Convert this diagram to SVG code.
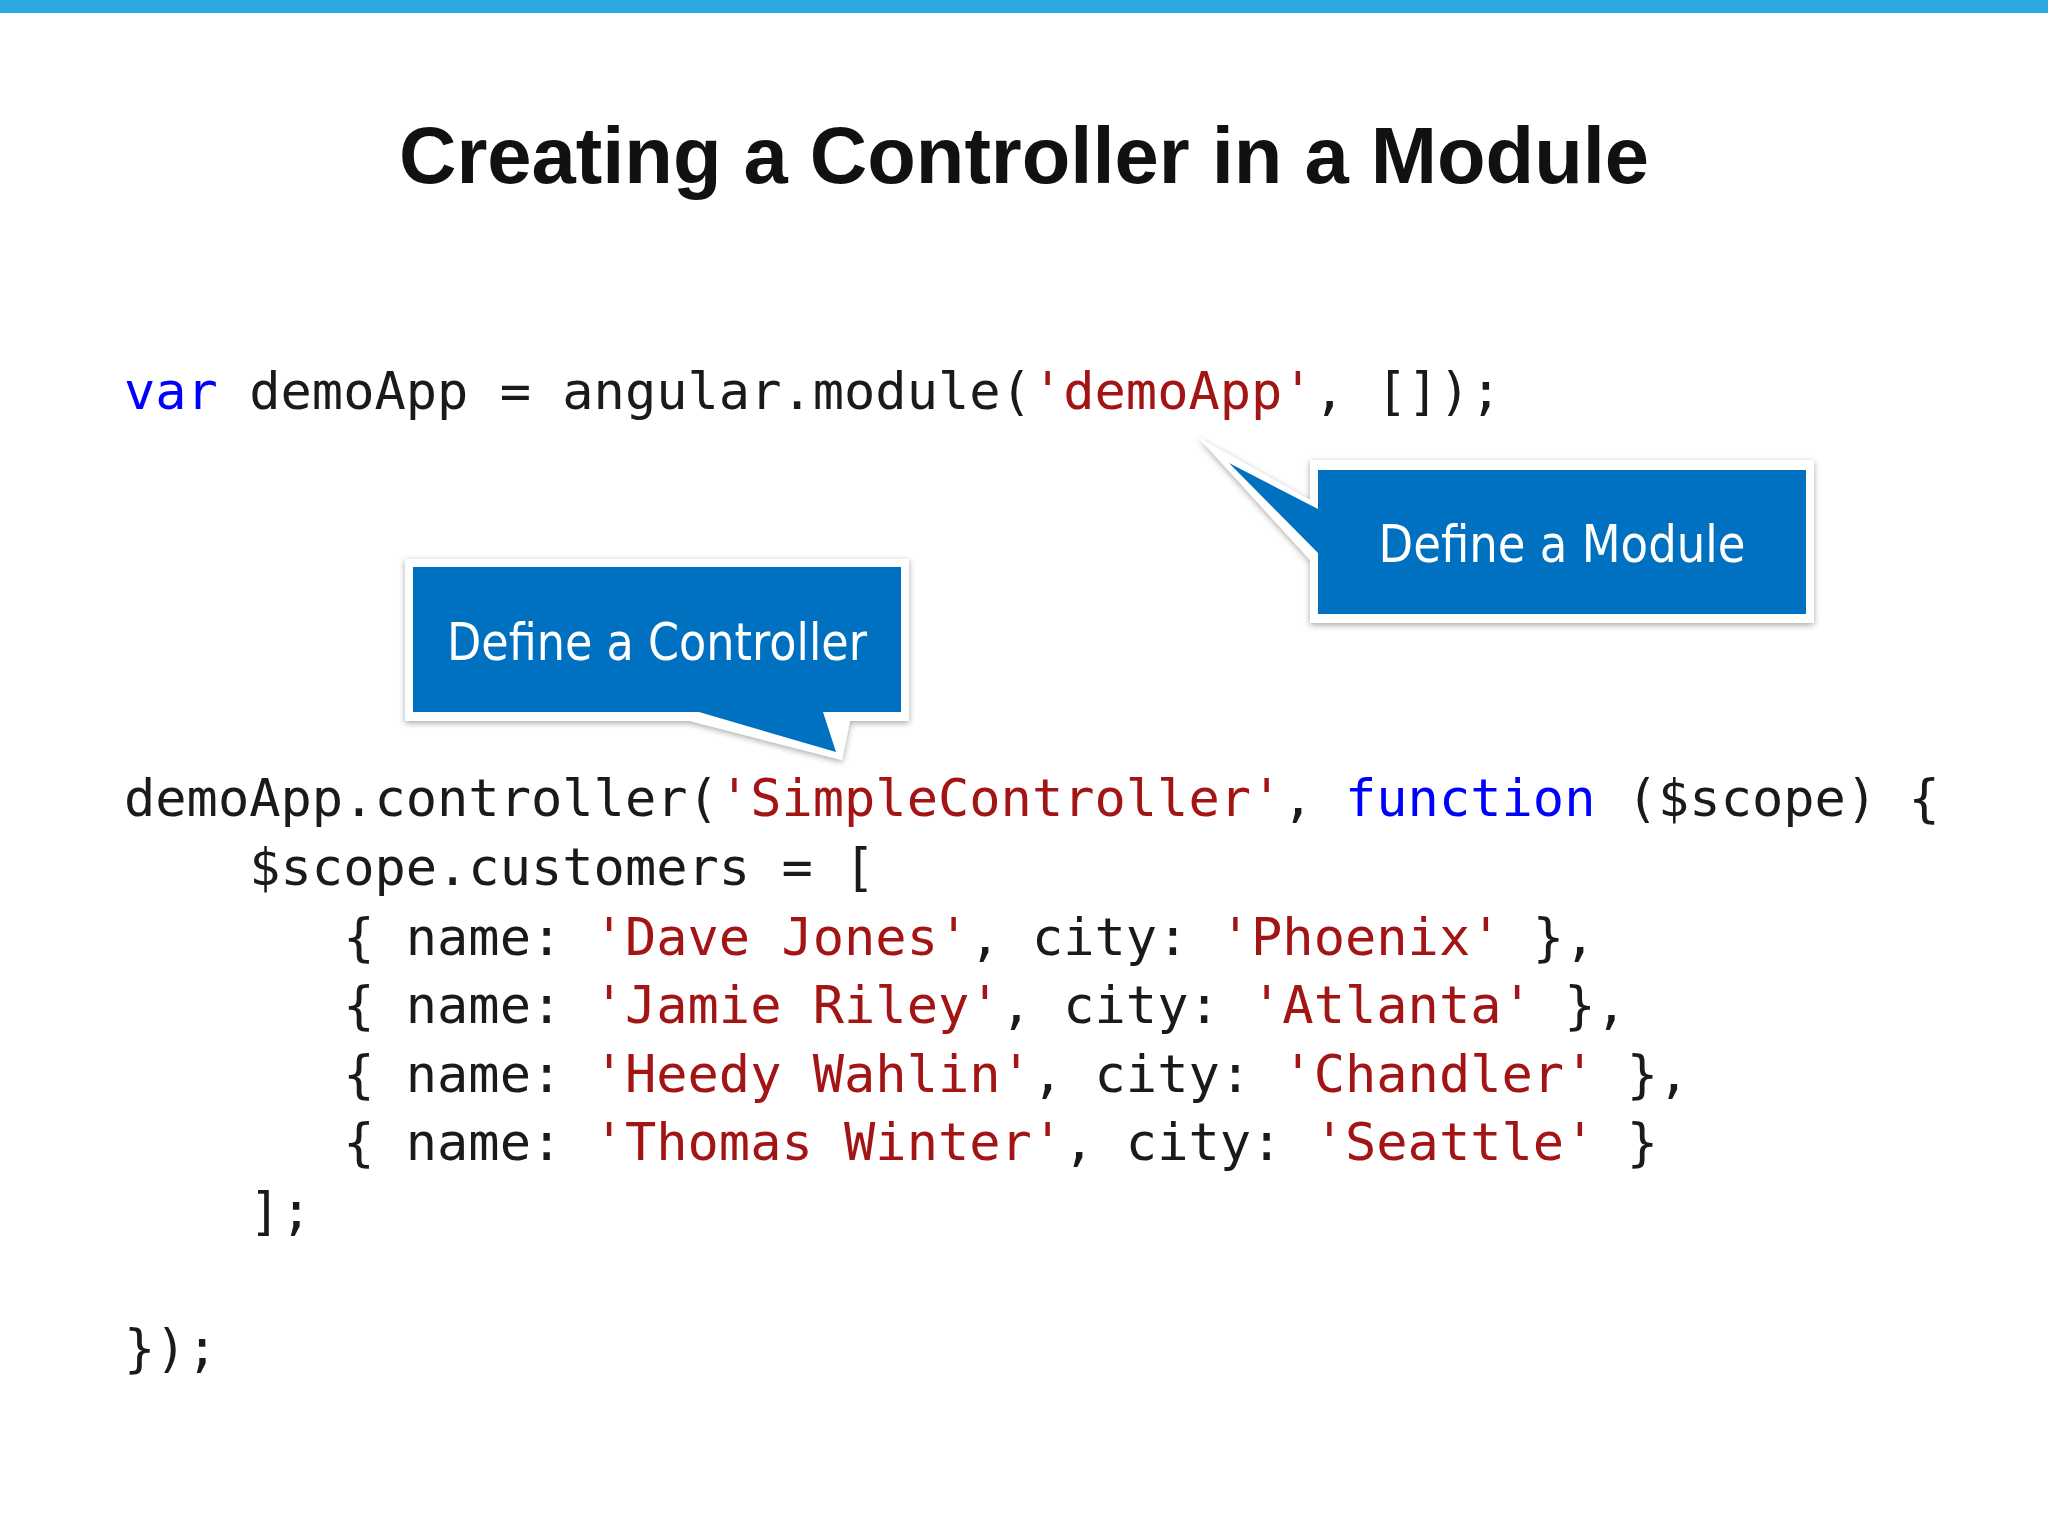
<svg xmlns="http://www.w3.org/2000/svg" width="2048" height="1536" viewBox="0 0 2048 1536">
<style>
.code{font-family:"DejaVu Sans Mono","Liberation Mono",monospace;font-size:52px;fill:#1a1a1a;white-space:pre}
.kw{fill:#0000ff}.st{fill:#a31515}
.lbl{font-family:"DejaVu Sans","Noto Sans",sans-serif;font-size:52px;fill:#fff}
.outer{fill:#fff;filter:url(#sh)}
.inner{fill:#0070c0}
</style>
<defs>
<filter id="sh" x="-10%" y="-10%" width="120%" height="130%"><feDropShadow dx="0" dy="2" stdDeviation="3" flood-color="#000" flood-opacity="0.35"/></filter>
</defs>
<rect width="2048" height="1536" fill="#fff"/>
<rect width="2048" height="13" fill="#2aa8e0"/>
<text x="1024" y="183" text-anchor="middle" font-family="Liberation Sans,Arial,sans-serif" font-weight="bold" font-size="80" fill="#111" textLength="1250" lengthAdjust="spacingAndGlyphs">Creating a Controller in a Module</text>
<g id="code">
<text class="code" x="124" y="409" xml:space="preserve"><tspan class="kw">var</tspan> demoApp = angular.module(<tspan class="st">'demoApp'</tspan>, []);</text>
<text class="code" x="124" y="816" xml:space="preserve">demoApp.controller(<tspan class="st">'SimpleController'</tspan>, <tspan class="kw">function</tspan> ($scope) {</text>
<text class="code" x="124" y="885" xml:space="preserve">    $scope.customers = [</text>
<text class="code" x="124" y="955" xml:space="preserve">       { name: <tspan class="st">'Dave Jones'</tspan>, city: <tspan class="st">'Phoenix'</tspan> },</text>
<text class="code" x="124" y="1023" xml:space="preserve">       { name: <tspan class="st">'Jamie Riley'</tspan>, city: <tspan class="st">'Atlanta'</tspan> },</text>
<text class="code" x="124" y="1092" xml:space="preserve">       { name: <tspan class="st">'Heedy Wahlin'</tspan>, city: <tspan class="st">'Chandler'</tspan> },</text>
<text class="code" x="124" y="1160" xml:space="preserve">       { name: <tspan class="st">'Thomas Winter'</tspan>, city: <tspan class="st">'Seattle'</tspan> }</text>
<text class="code" x="124" y="1229" xml:space="preserve">    ];</text>
<text class="code" x="124" y="1366" xml:space="preserve">});</text>
</g>
<g id="module-callout">
<path class="outer" d="M1310,460 H1814 V623 H1310 V560 L1198,437 L1310,500 Z"/>
<path class="inner" d="M1318,470 H1806 V614 H1318 V553 L1229,463 L1318,509 Z"/>
<text class="lbl" x="1562" y="562" text-anchor="middle" textLength="367" lengthAdjust="spacingAndGlyphs">Define a Module</text>
</g>
<g id="controller-callout">
<path class="outer" d="M405,559 H909 V721 H850 L842,760 L690,721 H405 Z"/>
<path class="inner" d="M413,567 H901 V712 H823 L836,752 L699,712 H413 Z"/>
<text class="lbl" x="657" y="660" text-anchor="middle" textLength="420" lengthAdjust="spacingAndGlyphs">Define a Controller</text>
</g>
</svg>
